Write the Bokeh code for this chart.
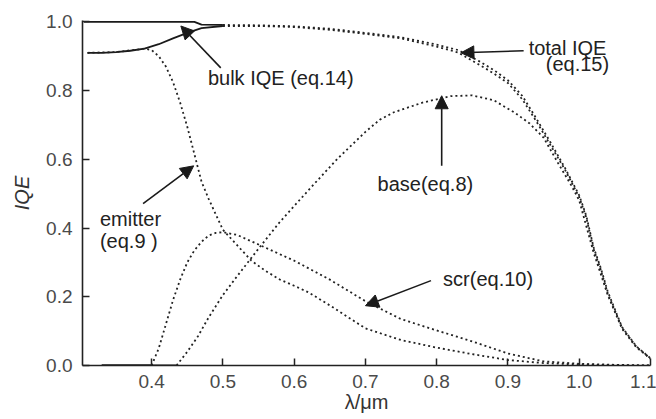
import numpy as np
from bokeh.plotting import figure
from bokeh.models import Range1d, FixedTicker, PrintfTickFormatter, Label, Arrow, NormalHead
from bokeh.embed import file_html
from bokeh.resources import INLINE

# ---- data ----
x_ticks = [0.4, 0.5, 0.6, 0.7, 0.8, 0.9, 1.0, 1.1]
y_ticks = [0.0, 0.2, 0.4, 0.6, 0.8, 1.0]

bulk_wl = [0.305, 0.35, 0.40, 0.45, 0.46, 0.47, 0.50, 0.55, 0.60, 0.65, 0.70, 0.75, 0.80, 0.83,
           0.86, 0.88, 0.90, 0.92, 0.94, 0.96, 0.98, 1.00, 1.01, 1.02, 1.03, 1.04, 1.06, 1.08, 1.10]
bulk_iqe = [1.0, 1.0, 1.0, 1.0, 1.0, 0.992, 0.991, 0.990, 0.987, 0.980, 0.968, 0.955, 0.934, 0.918,
            0.885, 0.860, 0.830, 0.785, 0.718, 0.648, 0.575, 0.495, 0.435, 0.345, 0.285, 0.215,
            0.112, 0.056, 0.021]

total_wl = [0.31, 0.33, 0.35, 0.37, 0.39, 0.41, 0.43, 0.45, 0.47, 0.50, 0.55, 0.60, 0.65, 0.70,
            0.75, 0.80, 0.83, 0.86, 0.88, 0.90, 0.92, 0.94, 0.96, 0.98, 1.00, 1.01, 1.02, 1.03,
            1.04, 1.06, 1.08, 1.10]
total_iqe = [0.910, 0.910, 0.912, 0.916, 0.922, 0.935, 0.952, 0.968, 0.982, 0.988, 0.988, 0.985,
             0.977, 0.965, 0.952, 0.928, 0.911, 0.875, 0.850, 0.822, 0.775, 0.710, 0.640, 0.570,
             0.490, 0.430, 0.340, 0.280, 0.210, 0.110, 0.055, 0.020]

emitter_wl = [0.31, 0.35, 0.39, 0.40, 0.41, 0.42, 0.43, 0.44, 0.45, 0.46, 0.47, 0.48, 0.49, 0.50,
              0.52, 0.54, 0.56, 0.58, 0.60, 0.62, 0.65, 0.70, 0.75, 0.80, 0.85, 0.90, 0.95,
              1.00, 1.05, 1.10]
emitter_iqe = [0.910, 0.912, 0.922, 0.918, 0.900, 0.870, 0.825, 0.765, 0.695, 0.615, 0.535, 0.485,
               0.440, 0.395, 0.350, 0.305, 0.275, 0.250, 0.232, 0.213, 0.175, 0.108, 0.074, 0.052,
               0.033, 0.016, 0.007, 0.003, 0.001, 0.0]

scr_wl = [0.33, 0.40, 0.41, 0.42, 0.43, 0.44, 0.45, 0.46, 0.47, 0.48, 0.49, 0.50, 0.52, 0.55,
          0.60, 0.65, 0.70, 0.75, 0.80, 0.85, 0.90, 0.95, 1.00, 1.05, 1.10]
scr_iqe = [0.0, 0.0, 0.05, 0.12, 0.19, 0.25, 0.30, 0.335, 0.36, 0.378, 0.386, 0.388, 0.38, 0.352,
           0.305, 0.25, 0.187, 0.135, 0.102, 0.07, 0.035, 0.012, 0.005, 0.002, 0.0]

base_wl = [0.33, 0.435, 0.45, 0.465, 0.48, 0.50, 0.52, 0.55, 0.58, 0.62, 0.66, 0.70, 0.72, 0.74,
           0.78, 0.82, 0.85, 0.88, 0.91, 0.93, 0.95, 0.97, 0.99, 1.00, 1.02, 1.04, 1.06, 1.08, 1.10]
base_iqe = [0.0, 0.0, 0.04, 0.085, 0.14, 0.205, 0.26, 0.34, 0.418, 0.51, 0.60, 0.68, 0.715, 0.737,
            0.765, 0.784, 0.786, 0.772, 0.735, 0.705, 0.663, 0.59, 0.52, 0.48, 0.33, 0.205, 0.107,
            0.053, 0.02]

FONT = "Liberation Sans"
INK = "#1a1a1a"

p = figure(width=656, height=419, output_backend="svg", toolbar_location=None,
           x_range=Range1d(0.303, 1.1), y_range=Range1d(0.0, 1.004),
           min_border_left=82, min_border_right=6, min_border_top=20, min_border_bottom=54)
p.outline_line_color = None
p.grid.visible = False
p.background_fill_color = "white"
p.border_fill_color = "white"


def draw(wl, v, cut):
    wl = np.asarray(wl, dtype=float)
    v = np.asarray(v, dtype=float)
    m = wl <= cut
    n = int(m.sum())
    if n > 1:
        p.line(wl[:n], v[:n], line_color=INK, line_width=1.8)
    k = max(n - 1, 0)
    p.line(wl[k:], v[k:], line_color="#222222", line_width=1.8, line_dash="2 3")


draw(bulk_wl, bulk_iqe, 0.51)
draw(total_wl, total_iqe, 0.50)
draw(emitter_wl, emitter_iqe, 0.0)
draw(scr_wl, scr_iqe, 0.40)
draw(base_wl, base_iqe, 0.435)

for ax in (p.xaxis[0], p.yaxis[0]):
    ax.axis_line_color = "#222222"
    ax.axis_line_width = 1.6
    ax.major_tick_line_color = "#222222"
    ax.major_tick_line_width = 1.5
    ax.major_tick_in = 7
    ax.major_tick_out = 0
    ax.minor_tick_line_color = None
    ax.major_label_text_font = FONT
    ax.major_label_text_font_size = "19px"
    ax.major_label_text_color = "#4a4a4a"
    ax.formatter = PrintfTickFormatter(format="%.1f")
    ax.axis_label_text_font = FONT
    ax.axis_label_text_font_size = "20px"
    ax.axis_label_text_color = "#333333"

p.xaxis[0].ticker = FixedTicker(ticks=x_ticks)
p.yaxis[0].ticker = FixedTicker(ticks=y_ticks)
p.xaxis[0].major_label_standoff = 9
p.yaxis[0].major_label_standoff = 10
p.xaxis[0].axis_label = "λ/μm"
p.xaxis[0].axis_label_text_font_style = "normal"
p.xaxis[0].axis_label_standoff = 0
p.yaxis[0].axis_label = "IQE"
p.yaxis[0].axis_label_text_font_style = "italic"
p.yaxis[0].axis_label_standoff = 10


def label(x, y, t):
    p.add_layout(Label(x=x, y=y, text=t, text_font=FONT, text_font_size="20px",
                       text_color="#222222", text_align="left", text_baseline="middle"))


def arrow(x0, y0, x1, y1):
    p.add_layout(Arrow(end=NormalHead(size=13, fill_color=INK, line_color=INK, line_width=1),
                       x_start=x0, y_start=y0, x_end=x1, y_end=y1,
                       line_color=INK, line_width=1.6))


label(0.479, 0.837, "bulk IQE (eq.14)")
arrow(0.497, 0.866, 0.441, 0.988)

label(0.929, 0.924, "total IQE")
label(0.953, 0.878, "(eq.15)")
arrow(0.922, 0.916, 0.834, 0.910)

label(0.717, 0.529, "base(eq.8)")
arrow(0.807, 0.581, 0.807, 0.785)

label(0.809, 0.253, "scr(eq.10)")
arrow(0.792, 0.247, 0.700, 0.174)

label(0.3275, 0.427, "emitter")
label(0.3275, 0.363, "(eq.9 )")
arrow(0.388, 0.471, 0.459, 0.581)

open("out.html", "w").write(file_html(p, INLINE))
